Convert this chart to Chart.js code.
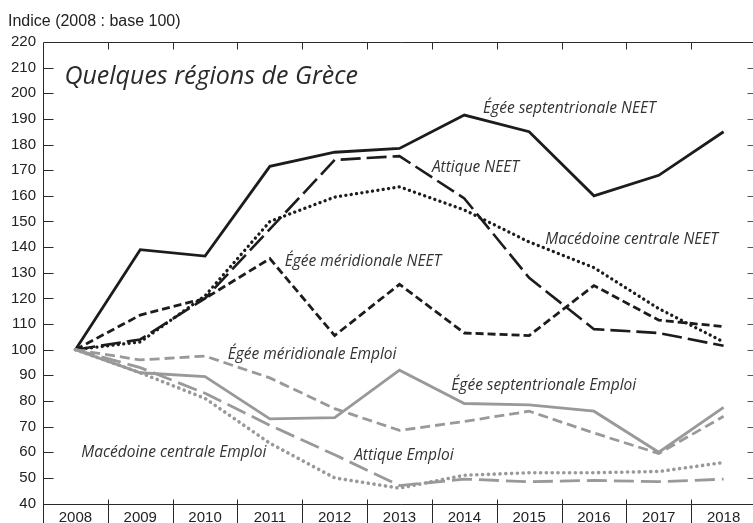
<!DOCTYPE html>
<html>
<head>
<meta charset="utf-8">
<script src="https://cdn.jsdelivr.net/npm/chart.js@4.4.1/dist/chart.umd.min.js"></script>
<style>
  html, body { margin: 0; padding: 0; background: #fff; overflow: hidden; }
  #wrap { width: 760px; height: 523px; }
</style>
</head>
<body>
<div id="wrap"><canvas id="chart" width="760" height="523"></canvas></div>
<script>
const years = ["2008", "2009", "2010", "2011", "2012", "2013", "2014", "2015", "2016", "2017", "2018"];

// NEET series (black)
const egeeSeptNeet = [100, 139, 136.5, 171.5, 177, 178.5, 191.5, 185, 160, 168, 185];
const attiqueNeet = [100, 104, 120, 147, 174, 175.5, 159, 128, 108, 106.5, 101.5];
const macedoineNeet = [100, 103, 121, 150, 159.5, 163.5, 154.5, 142, 132, 116, 103];
const egeeMeridNeet = [100, 113.5, 120, 135.5, 105.5, 125.5, 106.5, 105.5, 125, 111.5, 109];

// Emploi series (grey)
const egeeSeptEmploi = [100, 91, 89.5, 73, 73.5, 92, 79, 78.5, 76, 60, 77.5];
const egeeMeridEmploi = [100, 96, 97.5, 89, 77, 68.5, 72, 76, 67.5, 59.5, 74];
const attiqueEmploi = [100, 93, 83, 70.5, 59, 47, 49.5, 48.5, 49, 48.5, 49.5];
const macedoineEmploi = [100, 91, 81, 63.5, 50, 46, 51, 52, 52, 52.5, 56];

const yTicks = [40, 50, 60, 70, 80, 90, 100, 110, 120, 130, 140, 150, 160, 170, 180, 190, 200, 210, 220];

// annotation text, anchored in data space: [category index, value]
const notes = [
  ["Égée septentrionale NEET", 6.29, 192.2],
  ["Attique NEET", 5.50, 169.2],
  ["Macédoine centrale NEET", 7.25, 141.2],
  ["Égée méridionale NEET", 3.23, 132.6],
  ["Égée méridionale Emploi", 2.35, 96.3],
  ["Égée septentrionale Emploi", 5.80, 84.2],
  ["Attique Emploi", 4.30, 57.0],
  ["Macédoine centrale Emploi", 0.09, 58.1]
];

const BLACK = "#1c1c1c";
const GREY = "#999999";

function line(data, color, dash, width) {
  return {
    data,
    borderColor: color,
    borderWidth: width || 2.6,
    borderDash: dash || [],
    borderCapStyle: dash && dash[0] < 1 ? "round" : "butt",
    borderJoinStyle: "miter",
    pointRadius: 0,
    fill: false,
    tension: 0
  };
}

const frame = {
  id: "frame",
  beforeDatasetsDraw(chart) {
    const { ctx, chartArea: a, scales: { x, y } } = chart;
    const H = chart.height, W = chart.width;
    ctx.save();
    ctx.strokeStyle = "#2a2a2a";
    ctx.lineWidth = 1;
    const top = Math.round(a.top) + 0.5, bot = Math.round(a.bottom) + 0.5;
    const left = Math.round(a.left) + 0.5, right = Math.round(a.right) + 0.5;
    ctx.beginPath();
    ctx.moveTo(left, top); ctx.lineTo(W, top);
    ctx.moveTo(left, top); ctx.lineTo(left, H);
    ctx.moveTo(left, bot); ctx.lineTo(W, bot);
    ctx.moveTo(right, top); ctx.lineTo(right, bot);
    // y ticks on the left
    yTicks.slice(1, -1).forEach(v => {
      const py = Math.round(y.getPixelForValue(v)) + 0.5;
      ctx.moveTo(left, py); ctx.lineTo(left + 10, py);
    });
    // year boundaries
    for (let i = 1; i < years.length; i++) {
      const px = Math.round((x.getPixelForValue(i - 1) + x.getPixelForValue(i)) / 2) + 0.5;
      ctx.moveTo(px, top); ctx.lineTo(px, top + 7);
      ctx.moveTo(px, bot - 5); ctx.lineTo(px, H);
    }
    ctx.stroke();
    ctx.strokeStyle = "#555";
    ctx.beginPath();
    yTicks.slice(1, -1).forEach(v => {
      const py = Math.round(y.getPixelForValue(v)) + 0.5;
      ctx.moveTo(right - 9, py); ctx.lineTo(right, py);
    });
    ctx.stroke();
    ctx.restore();
  },
  afterDraw(chart) {
    const { ctx, scales: { x, y } } = chart;
    ctx.save();
    ctx.fillStyle = "#222";
    ctx.textBaseline = "alphabetic";
    ctx.font = "16px 'Liberation Sans', Arial, sans-serif";
    ctx.fillText("Indice (2008 : base 100)", 8, 26);
    ctx.fillStyle = "#2a2a2a";
    ctx.font = "italic 25px 'Open Sans', sans-serif";
    ctx.fillText("Quelques régions de Grèce", x.getPixelForValue(-0.17), y.getPixelForValue(203.6));
    ctx.fillStyle = "#333";
    ctx.font = "italic 15.5px 'Open Sans', sans-serif";
    notes.forEach(([t, i, v]) => ctx.fillText(t, x.getPixelForValue(i), y.getPixelForValue(v)));
    ctx.restore();
  }
};

new Chart(document.getElementById("chart"), {
  type: "line",
  data: {
    labels: years,
    datasets: [
      line(egeeSeptEmploi, GREY, null, 2.8),
      line(egeeMeridEmploi, GREY, [10, 5], 2.8),
      line(attiqueEmploi, GREY, [20, 7], 2.8),
      line(macedoineEmploi, GREY, [0.1, 5.7], 3.6),
      line(egeeSeptNeet, BLACK, null, 2.8),
      line(attiqueNeet, BLACK, [20, 6], 2.6),
      line(macedoineNeet, BLACK, [0.1, 5.3], 3.3),
      line(egeeMeridNeet, BLACK, [8, 4], 2.8)
    ]
  },
  options: {
    responsive: false,
    animation: false,
    events: [],
    layout: { padding: { top: 42, right: 4, left: 0, bottom: 0 } },
    plugins: { legend: { display: false }, tooltip: { enabled: false } },
    scales: {
      x: {
        offset: true,
        border: { display: false },
        grid: { display: false, drawTicks: false },
        ticks: { color: "#222", padding: 5, maxRotation: 0, font: { family: "'Liberation Sans', Arial, sans-serif", size: 15 } },
        afterFit(s) { s.height = 19.5; }
      },
      y: {
        min: 40,
        max: 220,
        border: { display: false },
        grid: { display: false, drawTicks: false },
        afterBuildTicks(s) { s.ticks = yTicks.map(v => ({ value: v })); },
        ticks: { color: "#222", padding: 7, font: { family: "'Liberation Sans', Arial, sans-serif", size: 15 } },
        afterFit(s) { s.width = 43; }
      }
    }
  },
  plugins: [frame]
});
</script>
</body>
</html>
